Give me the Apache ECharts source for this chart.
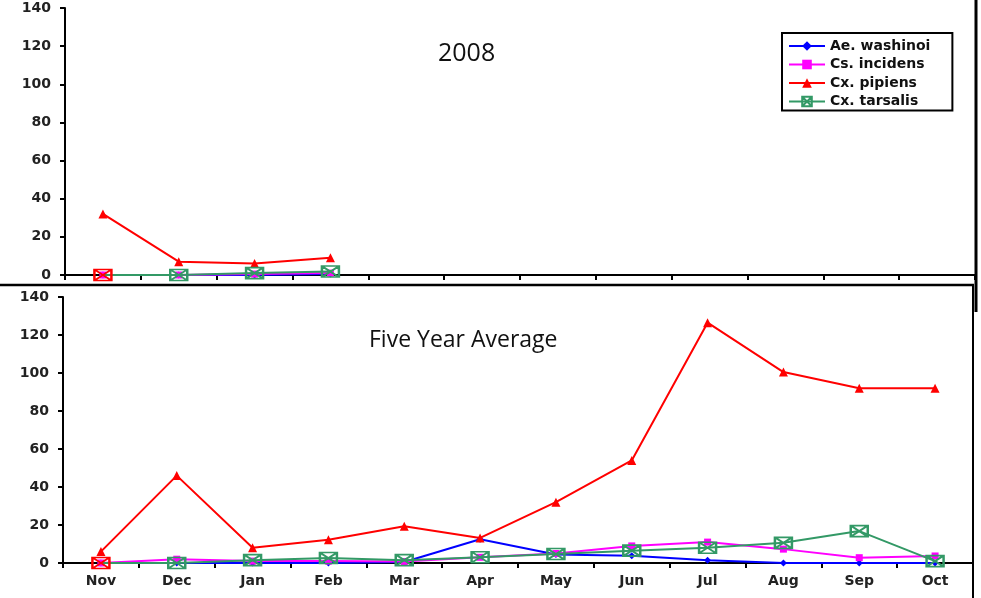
<!DOCTYPE html>
<html><head><meta charset="utf-8">
<script src="https://cdn.jsdelivr.net/npm/echarts@6/dist/echarts.min.js"></script>
<style>html,body{margin:0;padding:0;background:#fff}#c{width:981px;height:598px}</style>
</head><body><div id="c"></div>
<script>
const months = ['Nov','Dec','Jan','Feb','Mar','Apr','May','Jun','Jul','Aug','Sep','Oct'];
const yTicks = [0,20,40,60,80,100,120,140];
const seriesNames = ['Ae. washinoi','Cs. incidens','Cx. pipiens','Cx. tarsalis'];

// 2008 (Nov-Feb only)
const y2008_washinoi = [0, 0, 0, 0.5];
const y2008_incidens = [0, 0, 0.5, 1];
const y2008_pipiens  = [32, 7, 6, 9];
const y2008_tarsalis = [0, 0, 1, 1.8];

// Five year average
const avg_washinoi = [0, 0, 0, 0, 0.5, 12.5, 4.5, 3.8, 1.5, 0, 0, 0];
const avg_incidens = [0, 2, 1, 1, 0.8, 3, 5, 9, 11, 7.3, 2.8, 3.7];
const avg_pipiens  = [6, 46, 8, 12.2, 19.3, 13.2, 32, 54, 126.5, 100.5, 92, 92];
const avg_tarsalis = [0, 0, 1.5, 2.6, 1.5, 3, 4.7, 6.5, 8, 10.6, 16.8, 1];

const colors = ['#0000FF','#FF00FF','#FF0000','#339966'];
const symbols = ['diamond','rect','triangle','path://M0,0 L17,0 L17,11 L0,11 Z M0,0 L17,11 M17,0 L0,11'];
const sizes = [7, 7, 9, [17,11]];

function mk(name, data, idx, gi) {
  const isT = idx === 3;
  const d = isT ? data.map((v,i)=> i===0 ? {value:v, itemStyle:{borderColor:'#FF0000'}} : v) : data;
  return {
    name, type:'line', xAxisIndex:gi, yAxisIndex:gi, data:d,
    symbol: symbols[idx], symbolSize: sizes[idx], showSymbol:true,
    lineStyle:{color:colors[idx], width:2},
    itemStyle: isT ? {color:'rgba(255,255,255,0)', borderColor:colors[idx], borderWidth:2}
                   : {color:colors[idx]},
    z: isT ? 3 : 2,
    animation:false
  };
}

const chart = echarts.init(document.getElementById('c'));
const axisFont = {fontFamily:'DejaVu Sans', fontWeight:'bold', fontSize:14, color:'#222'};
function xA(gi, labels) {
  return {type:'category', gridIndex:gi, data:months, boundaryGap:true,
    axisLine:{lineStyle:{color:'#000', width:2}},
    axisTick:{show:true, length:5, inside:false, lineStyle:{color:'#000', width:2}, alignWithLabel:false},
    axisLabel: labels ? Object.assign({show:true, margin:11}, axisFont) : {show:false},
    splitLine:{show:false}};
}
function yA(gi) {
  return {type:'value', gridIndex:gi, min:0, max:140, interval:20,
    axisLine:{show:true, lineStyle:{color:'#000', width:2}},
    axisTick:{show:true, length:5, lineStyle:{color:'#000', width:2}},
    axisLabel: Object.assign({margin:14}, axisFont),
    splitLine:{show:false}};
}

chart.setOption({
  animation:false,
  title:[
    {text:'2008', left:433, top:36, textStyle:{fontFamily:'Open Sans', fontWeight:'normal', fontSize:25, color:'#111'}},
    {text:'Five Year Average', left:364, top:324, textStyle:{fontFamily:'Open Sans', fontWeight:'normal', fontSize:23, color:'#111'}}
  ],
  legend:{data:seriesNames, orient:'vertical', left:782, top:33,
    backgroundColor:'#fff', borderColor:'#000', borderWidth:2, padding:[6,22,2,6],
    itemWidth:36, itemHeight:12, itemGap:4.5,
    textStyle:{fontFamily:'DejaVu Sans', fontWeight:'bold', fontSize:14, color:'#111'}},
  grid:[
    {left:65, top:8, width:910, height:267, containLabel:false},
    {left:63, top:297, width:910, height:266, containLabel:false}
  ],
  xAxis:[xA(0,false), xA(1,true)],
  yAxis:[yA(0), yA(1)],
  series:[
    mk(seriesNames[0], y2008_washinoi, 0, 0),
    mk(seriesNames[1], y2008_incidens, 1, 0),
    mk(seriesNames[2], y2008_pipiens, 2, 0),
    mk(seriesNames[3], y2008_tarsalis, 3, 0),
    mk(seriesNames[0], avg_washinoi, 0, 1),
    mk(seriesNames[1], avg_incidens, 1, 1),
    mk(seriesNames[2], avg_pipiens, 2, 1),
    mk(seriesNames[3], avg_tarsalis, 3, 1)
  ],
  graphic:[
    {type:'line', shape:{x1:976, y1:0, x2:976, y2:312}, style:{stroke:'#000', lineWidth:3}},
    {type:'line', shape:{x1:0, y1:285, x2:974, y2:285}, style:{stroke:'#000', lineWidth:2.5}},
    {type:'line', shape:{x1:973, y1:285, x2:973, y2:598}, style:{stroke:'#000', lineWidth:2}}
  ]
});
</script></body></html>
